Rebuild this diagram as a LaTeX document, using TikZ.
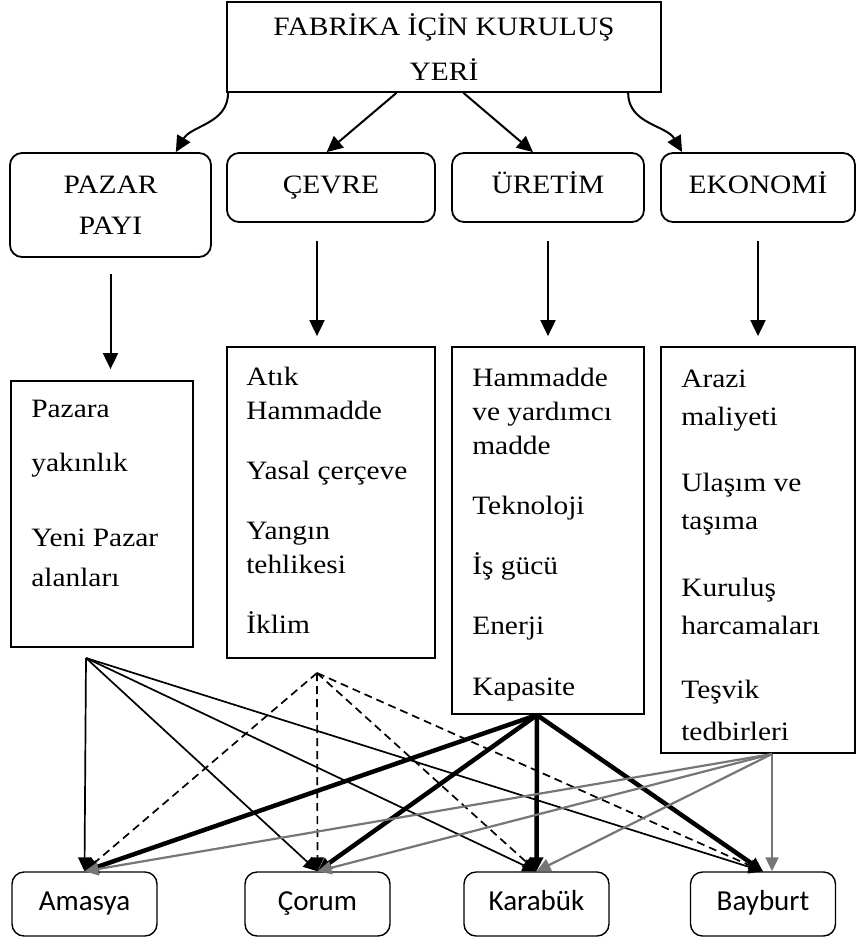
\documentclass[tikz,border=0pt]{standalone}
\usepackage{fontspec}
\setmainfont{Liberation Serif}[FakeStretch=1.11]
\newfontfamily\cityfont{Carlito}
\usetikzlibrary{positioning}
\usetikzlibrary{arrows.meta}
\definecolor{linkgray}{RGB}{118,118,118}

\begin{document}
\begin{tikzpicture}[x=1pt, y=-1pt,
  headbox/.style = {draw, line width=1.8pt, minimum width=434pt, minimum height=90pt, align=center, font=\fontsize{26.5}{45}\selectfont},
  groupbox/.style = {draw, line width=1.8pt, rounded corners=12pt, minimum height=69pt, align=center, font=\fontsize{26.5}{41}\selectfont},
  oneline/.style = {text height=18pt, text depth=6pt},
  listbox/.style = {draw, line width=1.8pt},
  listtext/.style = {align=left, inner sep=0pt, font=\fontsize{26.5}{34}\selectfont},
  citybox/.style = {draw, line width=1.4pt, rounded corners=12pt, minimum width=145pt, minimum height=64pt, text height=19pt, text depth=6pt, font=\cityfont\fontsize{29}{34}\selectfont},
  flow/.style = {line width=2pt, -{Triangle[length=16pt,width=15pt]}},
  linkbase/.style = {line width=1.7pt, -{Triangle[length=14pt,width=13pt]}},
  pazarlink/.style = {linkbase},
  cevrelink/.style = {linkbase, dash pattern=on 8pt off 5pt},
  uretimlink/.style = {linkbase, line width=4.5pt},
  ekonomilink/.style = {linkbase, draw=linkgray, line width=2.2pt}]
	\useasboundingbox (0,0) rectangle (857,937);

	\node[headbox] (root) at (444,47) {FABRİKA İÇİN KURULUŞ\\YERİ};

	\node[groupbox, minimum width=201pt, minimum height=104pt] (pazar) at (110.5,205) {PAZAR\\PAYI};
	\node[groupbox, oneline, minimum width=208pt] (cevre) at (331,187.5) {ÇEVRE};
	\node[groupbox, oneline, minimum width=192pt] (uretim) at (548,187.5) {ÜRETİM};
	\node[groupbox, oneline, minimum width=194pt] (ekonomi) at (758,187.5) {EKONOMİ};

	\node[listbox, minimum width=182pt, minimum height=266pt] (pazarL) at (102,514) {};
	\node[listbox, minimum width=208pt, minimum height=311pt] (cevreL) at (331,502.5) {};
	\node[listbox, minimum width=192pt, minimum height=367pt] (uretimL) at (548,530.5) {};
	\node[listbox, minimum width=194pt, minimum height=406pt] (ekonomiL) at (758,550) {};

	\node[listtext, font=\fontsize{26.5}{40}\selectfont, below right=20pt and 21pt of pazarL.north west] (pazarT) {Pazara\\[14pt] yakınlık\\[35pt] Yeni Pazar\\ alanları};
	\node[listtext, below right=21pt and 20pt of cevreL.north west] (cevreT) {Atık\\ Hammadde\\[26pt] Yasal çerçeve\\[26pt] Yangın\\ tehlikesi\\[26pt] İklim};
	\node[listtext, below right=22pt and 21pt of uretimL.north west] (uretimT) {Hammadde\\ ve yardımcı\\ madde\\[26pt] Teknoloji\\[26pt] İş gücü\\[26pt] Enerji\\[27pt] Kapasite};
	\node[listtext, font=\fontsize{26.5}{38}\selectfont, below right=24pt and 21pt of ekonomiL.north west] (ekonomiT) {Arazi\\ maliyeti\\[28pt] Ulaşım ve\\ taşıma\\[29pt] Kuruluş\\ harcamaları\\[26pt] Teşvik\\[4pt] tedbirleri};

	\node[citybox] (amasya) at (84.5,904) {Amasya};
	\node[citybox] (corum) at (317.5,904) {Çorum};
	\node[citybox] (karabuk) at (536.5,904) {Karabük};
	\node[citybox] (bayburt) at (763,904) {Bayburt};

	% top level
	\draw[flow] (root.192) to[out=-90, in=60] (pazar.39);
	\draw[flow] (root.224) -- (cevre.97);
	\draw[flow] (root.293) -- (uretim.113);
	\draw[flow] (root.346) to[out=-90, in=120] (ekonomi.155);

	\draw[flow, shorten <=16pt, shorten >=11pt] (pazar.south) -- (pazar.south |- pazarL.north);
	\draw[flow, shorten <=18pt, shorten >=10pt] ([xshift=-14pt]cevre.south) -- ([xshift=-14pt]cevreL.north);
	\draw[flow, shorten <=18pt, shorten >=10pt] (uretim.south) -- (uretimL.north);
	\draw[flow, shorten <=18pt, shorten >=10pt] (ekonomi.south) -- (ekonomiL.north);

	% cities
	\coordinate (pazarOut) at (86,658);
	\coordinate (cevreOut) at (317,673);
	\coordinate (uretimOut) at (537,715);
	\coordinate (ekonomiOut) at (772,754);

	\draw[pazarlink] (pazarOut) -- (amasya.north);
	\draw[pazarlink] (pazarOut) -- (corum.north);
	\draw[pazarlink] (pazarOut) -- (karabuk.north);
	\draw[pazarlink] (pazarOut) -- (bayburt.north);

	\draw[cevrelink] (cevreOut) -- (amasya.north);
	\draw[cevrelink] (cevreOut) -- (corum.north);
	\draw[cevrelink] (cevreOut) -- (karabuk.north);
	\draw[cevrelink] (cevreOut) -- (bayburt.north);

	\draw[uretimlink] (uretimOut) -- (amasya.north);
	\draw[uretimlink] (uretimOut) -- (corum.north);
	\draw[uretimlink] (uretimOut) -- (karabuk.north);
	\draw[uretimlink] (uretimOut) -- (bayburt.north);

	\draw[ekonomilink] (ekonomiOut) -- (amasya.north);
	\draw[ekonomilink] (ekonomiOut) -- (corum.north);
	\draw[ekonomilink] (ekonomiOut) -- (karabuk.north);
	\draw[ekonomilink] (ekonomiOut) -- (ekonomiOut |- bayburt.north);
\end{tikzpicture}
\end{document}
